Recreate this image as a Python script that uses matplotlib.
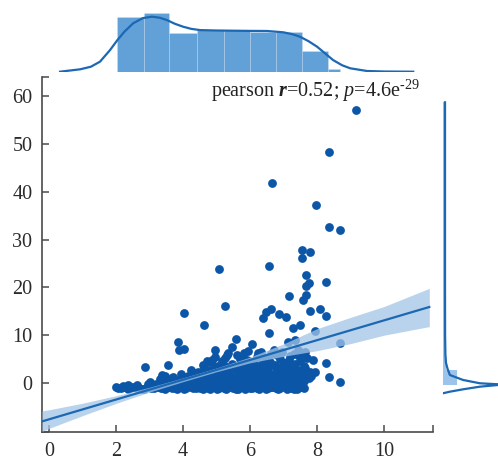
import numpy as np
import matplotlib
matplotlib.use("Agg")
import matplotlib.pyplot as plt

plt.rcParams['font.family'] = ['Liberation Serif', 'DejaVu Serif']
plt.rcParams['mathtext.fontset'] = 'custom'
plt.rcParams['mathtext.rm'] = 'Liberation Serif'
plt.rcParams['mathtext.it'] = 'Liberation Serif:italic'
plt.rcParams['mathtext.bf'] = 'Liberation Serif:bold'
plt.rcParams['mathtext.bfit'] = 'Liberation Serif:italic:bold'

# ---------------- data ----------------
band_x = [2.00,2.14,2.28,2.42,2.56,2.70,2.84,2.98,3.12,3.26,3.40,3.54,3.68,3.82,3.96,4.10,4.24,4.38,4.52,4.66,
          4.80,4.94,5.08,5.22,5.36,5.50,5.64,5.78,5.92,6.06,6.20,6.34,6.48,6.62,6.76,6.90,7.04,7.18,7.32,7.46,7.60]
band_y = [-0.8,-1.0,-0.9,-1.1,-0.8,-1.0,-1.2,-0.9,-1.0,-0.8,-1.1,-0.9,-1.0,-1.2,-0.8,-1.0,-0.9,-1.1,-1.0,-0.7,
          -1.2,-0.9,-1.0,-1.1,-0.8,-1.0,-1.2,-0.9,-0.7,-1.1,-1.0,-0.8,-1.2,-0.9,-1.0,-1.1,-0.8,-1.0,-1.2,-0.9,-1.0]
band2_x = [2.07,2.21,2.35,2.49,2.63,2.77,2.91,3.05,3.19,3.33,3.47,3.61,3.75,3.89,4.03,4.17,4.31,4.45,4.59,4.73,
           4.87,5.01,5.15,5.29,5.43,5.57,5.71,5.85,5.99,6.13,6.27,6.41,6.55,6.69,6.83,6.97,7.11,7.25,7.39,7.53]
band2_y = [-1.1,-0.7,-1.2,-0.9,-1.0,-1.2,-0.8,-1.1,-0.6,-1.0,-1.2,-0.7,-1.1,-0.9,-1.3,-0.6,-1.1,-0.8,-1.3,-1.0,
           -0.6,-1.2,-0.8,-1.3,-0.6,-1.2,-0.8,-1.3,-1.0,-0.7,-1.3,-0.6,-1.1,-0.8,-1.3,-0.6,-1.2,-0.7,-1.3,-0.8]
row2_x = [2.35,2.62,2.95,3.18,3.40,3.58,3.75,3.92,4.08,4.25,4.42,4.58,4.75,4.90,5.05,5.20,5.35,5.50,5.65,5.80,
          5.95,6.10,6.25,6.40,6.55,6.70,6.85,7.00,7.15,7.30,7.45,7.60,7.75]
row2_y = [-0.5,-0.4,-0.3,-0.2,0.0,-0.3,0.2,-0.1,0.3,0.0,-0.2,0.4,0.1,-0.1,0.5,0.2,0.0,0.6,-0.2,0.3,
          0.5,0.1,0.7,0.0,0.4,0.6,0.2,0.8,0.3,0.5,0.9,0.4,1.0]
row2b_x = [3.02,3.30,3.50,3.66,3.84,4.00,4.17,4.34,4.50,4.66,4.83,4.98,5.13,5.28,5.43,5.58,5.73,5.88,6.03,6.18,
           6.33,6.48,6.63,6.78,6.93,7.08,7.23,7.38,7.53,7.68,7.83,5.00,6.00]
row2b_y = [0.3,0.8,0.5,1.0,0.6,1.1,0.7,1.3,0.8,1.4,0.9,1.2,0.6,1.5,1.0,1.3,0.7,1.6,1.1,1.4,
           0.9,1.7,1.2,1.5,1.0,1.8,1.3,1.6,1.1,1.9,1.5,-0.4,-0.5]
row3_x = [3.45,3.70,3.95,4.15,4.35,4.55,4.70,4.85,5.00,5.15,5.30,5.42,5.55,5.68,5.80,5.92,6.05,6.18,6.30,6.42,
          6.55,6.68,6.80,6.92,7.05,7.20,7.35,7.50,7.65,7.80]
row3_y = [1.5,1.2,1.8,1.4,2.0,1.6,2.4,1.3,2.2,1.8,2.6,1.5,2.9,2.1,1.7,3.0,2.3,1.6,2.8,2.0,
          3.2,1.8,2.5,3.4,2.1,2.9,1.9,2.6,3.1,2.2]
row3b_x = [4.25,4.45,4.62,4.78,4.95,5.10,5.24,5.38,5.50,5.62,5.74,5.86,6.00,6.12,6.24,6.36,6.48,6.60,6.74,6.86,
           7.00,7.12,7.28,7.44,7.60]
row3b_y = [2.7,2.3,3.1,2.8,3.3,2.6,3.6,2.9,3.8,3.2,2.7,3.9,3.4,4.1,3.0,3.7,2.6,4.0,3.5,2.8,
           4.2,3.3,3.8,2.7,3.6]
row4_x = [4.60,4.80,5.05,5.25,5.45,5.60,5.75,5.90,6.05,6.20,6.35,6.50,6.62,6.75,6.90,7.05,7.20,7.35,7.50,7.70]
row4_y = [3.8,4.3,3.5,5.2,4.0,5.8,3.6,4.9,4.4,5.5,3.9,4.7,6.0,3.7,5.0,4.2,5.6,3.9,4.6,5.3]
row4b_x = [4.95,5.15,5.35,5.70,5.95,6.10,6.25,6.45,6.60,6.80,6.95,7.15,7.30,7.45,7.62]
row4b_y = [5.4,4.6,6.3,5.1,6.6,4.1,6.2,5.3,4.4,5.9,6.5,4.9,6.1,5.7,6.3]
out_x = [9.16,8.37,6.65,7.97,8.37,8.67,7.56,7.79,7.56,5.08,6.56,7.67,8.27,7.77,7.67,7.17,7.67,7.57,5.26,4.04,
         6.47,6.63,7.79,8.09,8.27,6.86,7.07,6.40,4.63,6.58,7.27,7.49,7.94,8.67,3.86,3.88,4.04,5.57,4.95,2.87,
         3.56,3.36,7.89,8.27,8.37,8.67,7.94,7.14,7.34,7.42,7.64,5.47,5.83,6.05,6.32,6.70,4.71,4.86,5.30,5.70]
out_y = [57.0,48.3,41.8,37.2,32.7,32.0,27.8,27.5,26.1,23.8,24.5,22.6,21.2,20.9,20.2,18.2,18.4,17.4,16.1,14.7,
         14.9,15.4,15.1,15.4,14.1,14.4,13.7,13.5,12.1,10.4,11.4,12.1,10.9,8.4,8.6,6.9,7.1,9.3,6.8,3.4,
         3.8,1.7,4.8,4.1,1.2,0.3,2.4,8.6,9.0,6.9,6.5,7.6,6.2,8.1,6.5,6.9,4.5,4.8,5.9,5.5]

# regression fit and its confidence band
reg_intercept = -7.6
reg_slope = 2.07
ci_x  = [-0.21, 0.0, 1.0, 2.0, 3.0, 4.0, 5.0, 6.0, 7.0, 8.0, 9.0, 10.0, 11.35]
ci_lo = [-2.1, -1.9, -1.3, -0.8, -0.5, -0.4, -0.4, -0.6, -1.3, -2.2, -2.8, -3.1, -4.1]
ci_hi = [2.2, 2.0, 1.3, 0.8, 0.5, 0.4, 0.4, 0.6, 1.3, 2.4, 2.7, 2.9, 3.9]

# top marginal histogram / kde
top_edges = [2.04, 2.84, 3.59, 4.42, 5.21, 6.00, 6.78, 7.55, 8.33, 8.69]
top_dens  = [0.275, 0.292, 0.192, 0.2085, 0.2085, 0.200, 0.200, 0.1035, 0.015]
top_kde_x = [0.33, 0.93, 1.25, 1.52, 1.82, 2.04, 2.25, 2.51, 2.80, 3.07, 3.30, 3.52, 3.75, 4.00, 4.25, 4.51,
             5.00, 5.49, 6.00, 6.51, 6.99, 7.25, 7.49, 7.75, 8.00, 8.25, 8.48, 8.75, 8.99, 9.49, 10.0, 10.87]
top_kde_y = [0.0, 0.012, 0.025, 0.05, 0.108, 0.158, 0.20, 0.242, 0.268, 0.275, 0.270, 0.258, 0.240, 0.225, 0.214, 0.208,
             0.206, 0.205, 0.204, 0.2035, 0.197, 0.188, 0.175, 0.152, 0.125, 0.090, 0.058, 0.032, 0.017, 0.0035, 0.001, 0.0]

# right marginal histogram / kde
right_edges = [-0.4, 2.7, 58.7]
right_dens  = [0.0467, 0.010]
right_kde_y = [58.7, 40.0, 20.0, 10.0, 6.0, 4.2, 3.0, 1.67, 0.63, -0.06, -0.27, -0.35, -0.42, -0.77, -1.32, -1.82, -2.15]
right_kde_x = [0.0067, 0.0067, 0.0067, 0.0070, 0.0080, 0.010, 0.015, 0.023, 0.067, 0.123, 0.183, 0.27, 0.183, 0.123, 0.067, 0.023, 0.0]

x_ticks = [0, 2, 4, 6, 8, 10]
y_ticks = [0, 10, 20, 30, 40, 50, 60]
x_lim = (-0.21, 11.46)
y_lim = (-10.25, 64.0)

# ---------------- drawing ----------------
W, H = 498, 462
fig = plt.figure(figsize=(W / 100, H / 100), dpi=100)

def fx(px):
    return px / W

def fy(py):
    return 1 - py / H

ax = fig.add_axes([fx(42), fy(432), fx(433) - fx(42), fy(77) - fy(432)])
axt = fig.add_axes([fx(42), fy(71.7), fx(433) - fx(42), fy(5) - fy(71.7)], sharex=ax)
axr = fig.add_axes([fx(443), fy(432), 90 / W, fy(77) - fy(432)], sharey=ax)

pt_color = '#0c56a7'
line_color = '#1c68b3'
hist_color = '#62a0d8'

groups = [(band_x, band_y), (band2_x, band2_y), (row2_x, row2_y), (row2b_x, row2b_y),
          (row3_x, row3_y), (row3b_x, row3b_y), (row4_x, row4_y), (row4b_x, row4b_y), (out_x, out_y)]
for xs, ys in groups:
    ax.scatter(xs, ys, s=40, color=pt_color, linewidths=0, zorder=2)

cx = np.array(ci_x)
fit = reg_intercept + reg_slope * cx
ax.fill_between(cx, fit + np.array(ci_lo), fit + np.array(ci_hi), color='#a3c5e8', alpha=0.75, linewidth=0, zorder=3)
ax.plot(cx, fit, color=line_color, lw=1.6, zorder=4)

ax.set_xlim(*x_lim)
ax.set_ylim(*y_lim)
ax.set_xticks(x_ticks + [x_lim[1]])
ax.set_xticklabels([str(t) for t in x_ticks] + [''])
ax.set_yticks([y_lim[0]] + y_ticks + [y_lim[1]])
ax.set_yticklabels([''] + [str(t) for t in y_ticks] + [''])
for s in ['top', 'right']:
    ax.spines[s].set_visible(False)
for s in ['left', 'bottom']:
    ax.spines[s].set_color('#4a4a4a')
    ax.spines[s].set_linewidth(1.2)
ax.tick_params(direction='in', length=5, width=1.1, color='#4a4a4a', labelsize=14.5, labelcolor='#2b2b2b')
ax.tick_params(axis='x', pad=7.5)
ax.tick_params(axis='y', pad=7)

ax.text(4.84, 59.9, 'pearson $\\mathbfit{r}$=0.52; $\\mathit{p}$=4.6e$^{\u201029}$', fontsize=14.5,
        color='#222222', ha='left', va='baseline')

# top marginal
te = np.array(top_edges)
axt.bar(te[:-1], top_dens, width=np.diff(te), align='edge', color=hist_color,
        edgecolor=(1, 1, 1, 0.18), linewidth=0.6)
axt.plot(top_kde_x, top_kde_y, color=line_color, lw=1.6)
axt.set_ylim(0, 66.7 / 200)
axt.axis('off')

# right marginal
re_ = np.array(right_edges)
axr.barh(re_[:-1], right_dens, height=np.diff(re_), align='edge', color='#9cc3ea',
         edgecolor='none')
axr.plot(right_kde_x, right_kde_y, color=line_color, lw=1.6)
axr.set_xlim(0, 0.3)
axr.axis('off')

fig.savefig('out.png', dpi=100)
